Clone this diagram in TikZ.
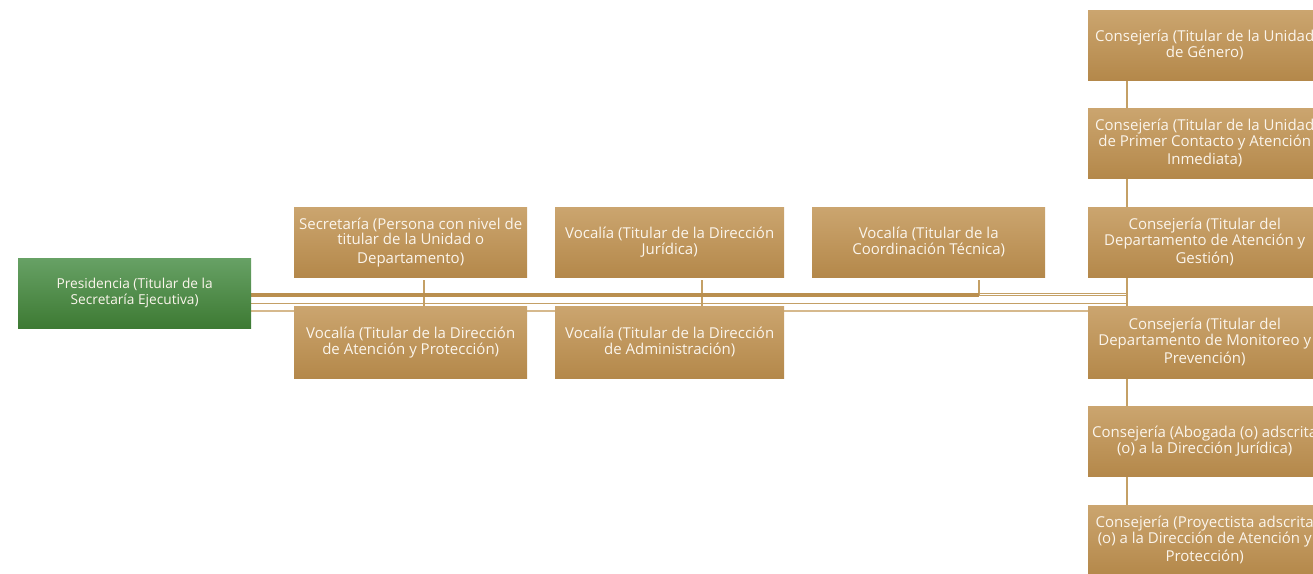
\documentclass[tikz,border=0pt]{standalone}
\usepackage{fontspec}
\setmainfont{Open Sans}
\usetikzlibrary{backgrounds}
\definecolor{goldtop}{HTML}{CBA56F}
\definecolor{goldbot}{HTML}{B4884A}
\definecolor{greentop}{HTML}{67A165}
\definecolor{greenbot}{HTML}{3D7A33}
\definecolor{linegold}{HTML}{C4A066}
\definecolor{thickgold}{HTML}{BA8F4F}
\definecolor{palegold}{HTML}{D6B98D}
\definecolor{txt}{HTML}{FBF5EC}
\tikzset{
  box/.style={anchor=north west, minimum width=233pt, minimum height=70pt, inner sep=0pt,
    top color=goldtop, bottom color=goldbot, draw=none, text=txt, align=center,
    font=\fontsize{15}{15.8}\selectfont},
  gbox/.style={box, top color=greentop, bottom color=greenbot, font=\fontsize{13.7}{15.8}\selectfont},
  conn/.style={draw=linegold, line width=1.4pt},
  thick conn/.style={draw=thickgold, line width=4pt},
  pale conn/.style={draw=palegold, line width=1.6pt}
}
\begin{document}
\begin{tikzpicture}[x=1pt,y=-1pt]
\useasboundingbox (0,0) rectangle (1313,573);
\node[gbox, minimum height=70pt] (pres) at (18,258) {Presidencia (Titular de la\\Secretaría Ejecutiva)};
\node[box] (sec) at (294,207) {Secretaría (Persona con nivel de\\titular de la Unidad o\\[2.5pt]Departamento)};
\node[box, minimum width=229pt] (vj) at (555,207) {Vocalía (Titular de la Dirección\\Jurídica)};
\node[box] (vc) at (812,207) {Vocalía (Titular de la\\Coordinación Técnica)};
\node[box, minimum height=72pt] (va) at (294,306) {Vocalía (Titular de la Dirección\\de Atención y Protección)};
\node[box, minimum width=229pt, minimum height=72pt] (vd) at (555,306) {Vocalía (Titular de la Dirección\\de Administración)};
\node[box] (c1) at (1088,10) {Consejería (Titular de la Unidad\\de Género)};
\node[box] (c2) at (1088,108) {Consejería (Titular de la Unidad\\de Primer Contacto y Atención\\[2.5pt]Inmediata)};
\node[box] (c3) at (1088,207) {Consejería (Titular del\\Departamento de Atención y\\[2.5pt]Gestión)};
\node[box, minimum height=72pt] (c4) at (1088,306) {Consejería (Titular del\\Departamento de Monitoreo y\\[2.5pt]Prevención)};
\node[box] (c5) at (1088,406) {Consejería (Abogada (o) adscrita\\(o) a la Dirección Jurídica)};
\node[box] (c6) at (1088,505) {Consejería (Proyectista adscrita\\(o) a la Dirección de Atención y\\[2.5pt]Protección)};
\coordinate (T) at (1127,0);
\coordinate (A) at (424,0);
\coordinate (B) at (702,0);
\coordinate (K) at (979,0);
\begin{scope}[on background layer]
  % trunk of the right column
  \draw[conn] (c1.south -| T) -- (c6.north -| T);
  % short drops
  \draw[conn] ([yshift=-3pt]sec.south -| A) -- (va.north -| A);
  \draw[conn] ([yshift=-3pt]vj.south -| B) -- (vd.north -| B);
  \draw[conn] ([yshift=-3pt]vc.south -| K) -- ([yshift=-18pt]vc.south -| K);
  % main horizontal bundle
  \draw[thick conn] ([yshift=-1.5pt]pres.east) -- ([yshift=-1.5pt]pres.east -| K);
  \draw[conn, line width=1.2pt] ([yshift=0pt]pres.east -| K) -- ([yshift=0pt]pres.east -| T);
  \draw[conn, line width=1.2pt] ([yshift=-2.6pt]pres.east -| K) -- ([yshift=-2.6pt]pres.east -| T);
  \draw[conn] ([yshift=-10.5pt]pres.east) -- ([yshift=-10.5pt]pres.east -| T);
  \draw[pale conn] ([yshift=-17.7pt]pres.east) -- ([yshift=-17.7pt]pres.east -| c4.west);
\end{scope}
\end{tikzpicture}
\end{document}
